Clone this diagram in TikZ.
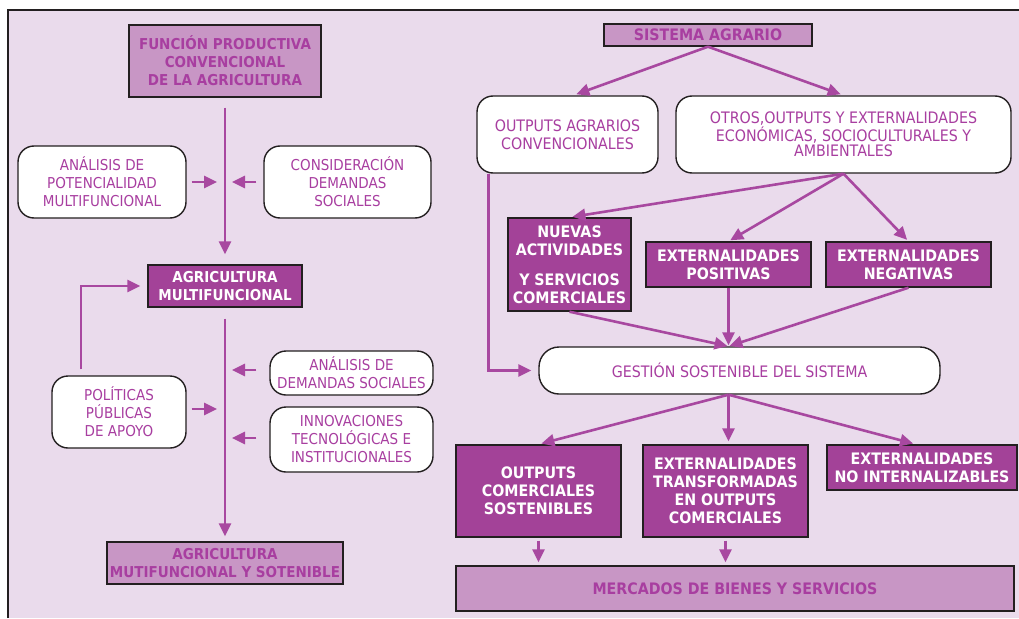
\documentclass[tikz,border=0pt]{standalone}
\usepackage{fontspec}
\setmainfont{DejaVu Sans}[FakeStretch=0.9]
\usetikzlibrary{arrows.meta}
\definecolor{bgc}{RGB}{234,219,236}
\definecolor{lightc}{RGB}{200,150,197}
\definecolor{darkc}{RGB}{163,66,152}
\definecolor{txtc}{RGB}{168,62,160}
\definecolor{arrc}{RGB}{168,72,160}
\definecolor{edgec}{RGB}{35,31,32}
\newcommand\leftsz{\fontsize{15}{18}\selectfont}
\newcommand\rightsz{\fontsize{15.8}{18}\selectfont}
\tikzset{
  roundbox/.style={draw=edgec, fill=white, line width=1.4pt, rounded corners=16pt, text=txtc, align=center, inner sep=0pt},
  darkbox/.style={draw=edgec, fill=darkc, line width=1.4pt, text=white, align=center, inner sep=0pt},
  lightbox/.style={draw=edgec, fill=lightc, line width=1.4pt, text=txtc, align=center, inner sep=0pt},
  flow/.style={draw=arrc, line width=2.6pt, -{Triangle[length=13pt,width=12pt]}},
}
\begin{document}
\begin{tikzpicture}[x=1pt,y=-1pt]
\useasboundingbox (0,0) rectangle (1019,618);
\fill[bgc] (8,10) rectangle (1019,618);
\draw[edgec, line width=2.2pt] (8,618) -- (8,10) -- (1019,10);

\node[lightbox, minimum width=192pt, minimum height=72pt, font=\leftsz\bfseries] (funcion) at (225,61) {FUNCIÓN PRODUCTIVA\\CONVENCIONAL\\DE LA AGRICULTURA};
\node[roundbox, minimum width=168pt, minimum height=72pt, font=\leftsz] (potencial) at (102,182) {ANÁLISIS DE\\POTENCIALIDAD\\MULTIFUNCIONAL};
\node[roundbox, minimum width=167pt, minimum height=72pt, font=\leftsz] (demandas) at (347.5,182) {CONSIDERACIÓN\\DEMANDAS\\SOCIALES};
\node[darkbox, minimum width=154pt, minimum height=42pt, font=\leftsz\bfseries] (agrmulti) at (225,286) {AGRICULTURA\\MULTIFUNCIONAL};
\node[roundbox, minimum width=134pt, minimum height=72pt, font=\leftsz] (politicas) at (119,412) {POLÍTICAS\\PÚBLICAS\\DE APOYO};
\node[roundbox, minimum width=163pt, minimum height=44pt, font=\leftsz] (anadem) at (351.5,373) {ANÁLISIS DE\\DEMANDAS SOCIALES};
\node[roundbox, minimum width=163pt, minimum height=65pt, font=\leftsz] (innov) at (351.5,439.5) {INNOVACIONES\\TECNOLÓGICAS E\\INSTITUCIONALES};
\node[lightbox, minimum width=236pt, minimum height=42pt, font=\leftsz\bfseries] (agrsost) at (225,563) {AGRICULTURA\\MUTIFUNCIONAL Y SOTENIBLE};

\node[lightbox, minimum width=208pt, minimum height=22pt, font=\rightsz\bfseries] (sistema) at (708,35) {SISTEMA AGRARIO};
\node[roundbox, minimum width=181pt, minimum height=77pt, font=\rightsz] (outconv) at (567.5,134.5) {OUTPUTS AGRARIOS\\CONVENCIONALES};
\node[roundbox, minimum width=335pt, minimum height=77pt, font=\fontsize{15.8}{15.5}\selectfont] (otros) at (843.5,134.5) {OTROS,OUTPUTS Y EXTERNALIDADES\\ECONÓMICAS, SOCIOCULTURALES Y\\AMBIENTALES};
\node[darkbox, minimum width=123pt, minimum height=93pt, font=\rightsz\bfseries] (nuevas) at (569.5,264.5) {NUEVAS\\ACTIVIDADES\\[12pt]Y SERVICIOS\\COMERCIALES};
\node[darkbox, minimum width=165pt, minimum height=45pt, font=\rightsz\bfseries] (extpos) at (728.5,264.5) {EXTERNALIDADES\\POSITIVAS};
\node[darkbox, minimum width=165pt, minimum height=45pt, font=\rightsz\bfseries] (extneg) at (908.5,264.5) {EXTERNALIDADES\\NEGATIVAS};
\node[roundbox, minimum width=401pt, minimum height=47pt, rounded corners=20pt, font=\rightsz] (gestion) at (739.5,370.5) {GESTIÓN SOSTENIBLE DEL SISTEMA};
\node[darkbox, minimum width=165pt, minimum height=92pt, font=\rightsz\bfseries] (outcom) at (538.5,491) {OUTPUTS\\COMERCIALES\\SOSTENIBLES};
\node[darkbox, minimum width=165pt, minimum height=92pt, font=\rightsz\bfseries] (exttrans) at (725.5,491) {EXTERNALIDADES\\TRANSFORMADAS\\EN OUTPUTS\\COMERCIALES};
\node[darkbox, minimum width=190pt, minimum height=45pt, font=\rightsz\bfseries] (extnoint) at (922,467.5) {EXTERNALIDADES\\NO INTERNALIZABLES};
\node[lightbox, minimum width=558pt, minimum height=45pt, font=\rightsz\bfseries] (mercados) at (735,588.5) {MERCADOS DE BIENES Y SERVICIOS};

\draw[flow, shorten <=10pt, shorten >=10pt] (funcion) -- (agrmulti);
\draw[flow, shorten <=5pt, shorten >=8pt] (potencial.east) -- (potencial.east -| funcion);
\draw[flow, shorten <=7pt, shorten >=7pt] (demandas.west) -- (demandas.west -| funcion);
\draw[flow, shorten <=11pt, shorten >=5pt] (agrmulti) -- (agrsost);
\draw[flow, shorten <=13pt, shorten >=7pt] ([yshift=3pt]anadem.west) -- ([yshift=3pt]anadem.west -| agrmulti);
\draw[flow, shorten <=5pt, shorten >=8pt] ([yshift=3pt]politicas.east) -- ([yshift=3pt]politicas.east -| agrmulti);
\draw[flow, shorten <=13pt, shorten >=7pt] ([yshift=1.5pt]innov.west) -- ([yshift=1.5pt]innov.west -| agrmulti);
\draw[flow, shorten <=6pt, shorten >=7pt] ([xshift=-38pt]politicas.north) |- (agrmulti.west);

\draw[flow, shorten >=3pt] (sistema.south) -- ([xshift=6pt]outconv.north);
\draw[flow, shorten >=3pt] (sistema.south) -- (otros.north);
\draw[flow, shorten >=3pt] (otros.south) -- (nuevas.north);
\draw[flow, shorten >=2pt] (otros.south) -- (extpos.north);
\draw[flow, shorten >=2pt] (otros.south) -- (extneg.north);
\draw[flow, shorten >=7pt] ([xshift=12pt]outconv.south west) |- (gestion.west);
\coordinate (gin) at ([xshift=-11pt]gestion.north);
\draw[flow, shorten >=1pt] (nuevas.south) -- (gin);
\draw[flow, shorten >=1pt] (extpos.south) -- (gin);
\draw[flow, shorten >=1pt] (extneg.south) -- (gin);
\coordinate (gout) at ([xshift=-11pt]gestion.south);
\draw[flow, shorten >=3pt] (gout) -- (outcom.north);
\draw[flow, shorten >=3pt] (gout) -- (exttrans.north -| gout);
\draw[flow, shorten >=3pt] (gout) -- ([xshift=-6pt]extnoint.north);
\draw[flow, shorten <=3pt, shorten >=3pt] (outcom.south) -- (outcom.south |- mercados.north);
\draw[flow, shorten <=3pt, shorten >=3pt] (exttrans.south) -- (exttrans.south |- mercados.north);
\end{tikzpicture}
\end{document}
